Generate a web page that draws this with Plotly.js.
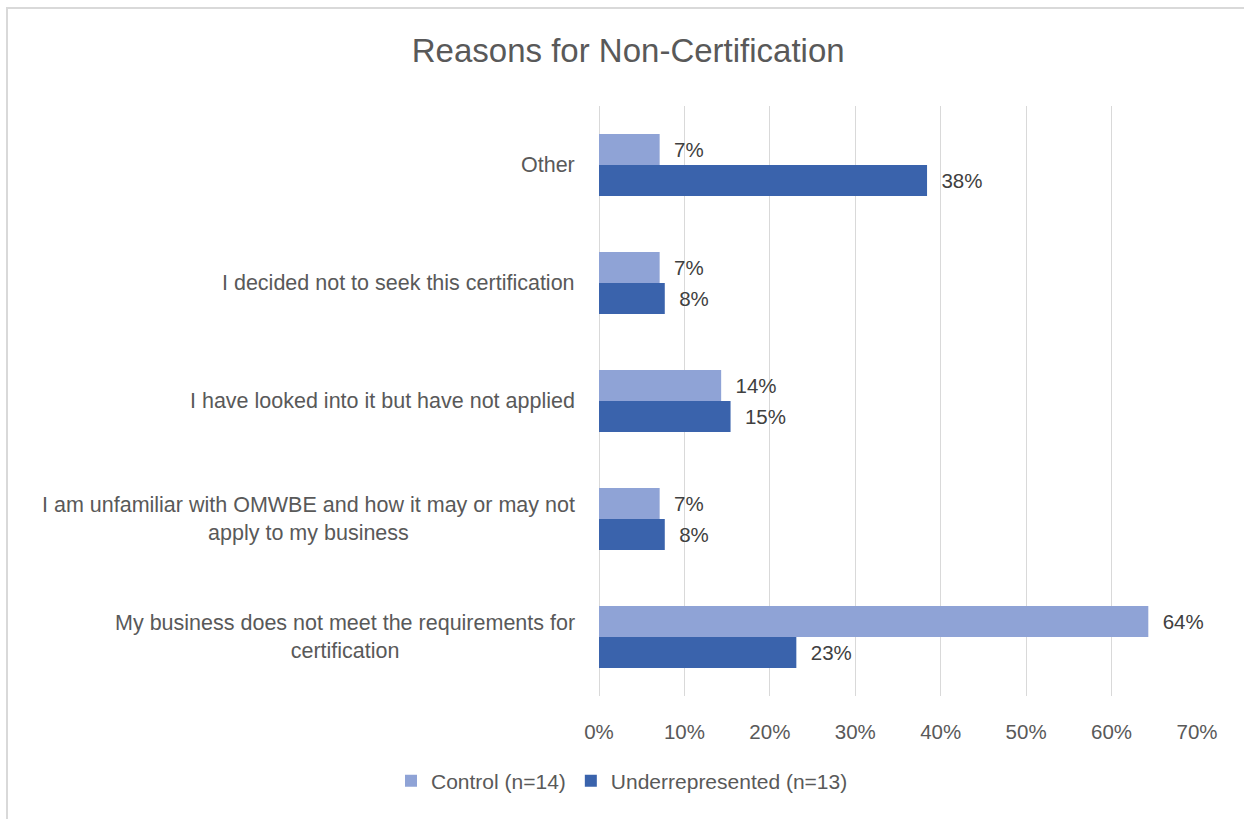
<!DOCTYPE html>
<html>
<head>
<meta charset="utf-8">
<script src="https://cdn.plot.ly/plotly-3.0.1.min.js"></script>
<style>
  html, body { margin: 0; padding: 0; background: #fff; }
  #wrap { position: relative; width: 1244px; height: 819px; }
  #chart { width: 1244px; height: 819px; }
  #frame { position: absolute; left: 6px; top: 7px; right: -2px; bottom: -2px;
           border-top: 2px solid #d9d9d9; border-left: 2px solid #d9d9d9; pointer-events: none; }
</style>
</head>
<body>
<div id="wrap"><div id="chart"></div><div id="frame"></div></div>
<script>
// Categories bottom-to-top (as drawn)
const categories = [
  "My business does not meet the requirements for<br>certification",
  "I am unfamiliar with OMWBE and how it may or may not<br>apply to my business",
  "I have looked into it but have not applied",
  "I decided not to seek this certification",
  "Other"
];
const controlValues = [0.643, 0.071, 0.143, 0.071, 0.071];
const underrepValues = [0.231, 0.077, 0.154, 0.077, 0.384];
const seriesNames = ["Control (n=14)", "Underrepresented (n=13)"];
const xTickVals = [0, 0.1, 0.2, 0.3, 0.4, 0.5, 0.6, 0.7];

const FONT = "Liberation Sans, Arial, sans-serif";
const labelFont = { family: FONT, size: 20.5, color: "#404040" };

const traceUnder = {
  type: "bar", orientation: "h", name: seriesNames[1],
  y: categories, x: underrepValues,
  marker: { color: "#3a63ac" },
  texttemplate: "\u00a0\u00a0%{x:.0%}", textposition: "outside",
  textfont: labelFont, cliponaxis: false, hoverinfo: "skip"
};
const traceControl = {
  type: "bar", orientation: "h", name: seriesNames[0],
  y: categories, x: controlValues,
  marker: { color: "#8fa3d6" },
  texttemplate: "\u00a0\u00a0%{x:.0%}", textposition: "outside",
  textfont: labelFont, cliponaxis: false, hoverinfo: "skip"
};

const catAnnotations = categories.map(c => ({
  xref: "paper", yref: "y", x: 0, y: c, xanchor: "right", yanchor: "middle",
  xshift: -22, text: c, showarrow: false, align: "center",
  font: { family: FONT, size: 21.5, color: "#595959" }
}));

const layout = {
  width: 1244, height: 819,
  margin: { l: 599, r: 47, t: 106, b: 123 },
  paper_bgcolor: "rgba(0,0,0,0)", plot_bgcolor: "#fff",
  barmode: "group", bargap: 0.475, bargroupgap: 0,
  title: { text: "Reasons for Non-Certification", xref: "container", x: 0.505,
           y: 1 - 50/819, yanchor: "middle", xanchor: "center",
           font: { family: FONT, size: 33, color: "#595959" } },
  xaxis: {
    range: [0, 0.7], tickvals: xTickVals, tickformat: ".0%",
    showgrid: true, gridcolor: "#d9d9d9", gridwidth: 1,
    zeroline: true, zerolinecolor: "#d9d9d9", zerolinewidth: 1,
    showline: false, ticks: "", ticklabelstandoff: 21,
    tickfont: { family: FONT, size: 20.5, color: "#595959" }, fixedrange: true
  },
  yaxis: {
    type: "category", showticklabels: false, showgrid: false, zeroline: false,
    showline: false, ticks: "", fixedrange: true
  },
  annotations: catAnnotations,
  showlegend: true,
  legend: { orientation: "h", xref: "container", yref: "container",
            x: 0.5, xanchor: "center", y: 1 - 781/819, yanchor: "middle",
            traceorder: "reversed", font: { family: FONT, size: 21, color: "#595959" },
            itemwidth: 30, bgcolor: "rgba(0,0,0,0)" }
};

Plotly.newPlot("chart", [traceUnder, traceControl], layout, { displayModeBar: false, staticPlot: true });
</script>
</body>
</html>
